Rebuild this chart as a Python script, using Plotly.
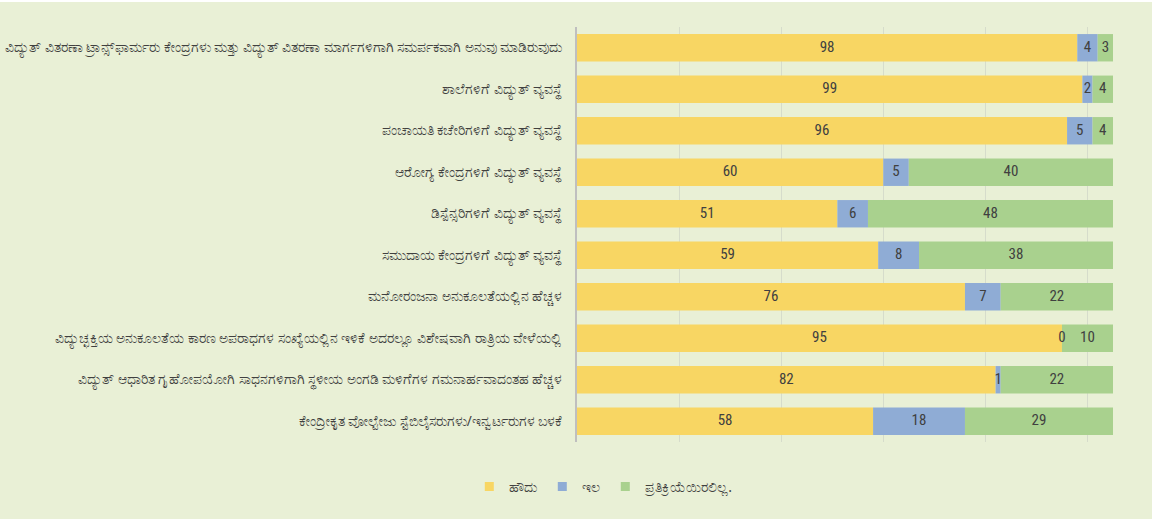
import plotly.graph_objects as go

categories = [
    "ವಿದ್ಯುತ್ ವಿತರಣಾ ಟ್ರಾನ್ಸ್‌ಫಾರ್ಮರು ಕೇಂದ್ರಗಳು ಮತ್ತು ವಿದ್ಯುತ್ ವಿತರಣಾ ಮಾರ್ಗಗಳಿಗಾಗಿ ಸಮರ್ಪಕವಾಗಿ ಅನುವು ಮಾಡಿರುವುದು",
    "ಶಾಲೆಗಳಿಗೆ ವಿದ್ಯುತ್ ವ್ಯವಸ್ಥೆ",
    "ಪಂಚಾಯತಿ ಕಚೇರಿಗಳಿಗೆ ವಿದ್ಯುತ್ ವ್ಯವಸ್ಥೆ",
    "ಆರೋಗ್ಯ ಕೇಂದ್ರಗಳಿಗೆ ವಿದ್ಯುತ್ ವ್ಯವಸ್ಥೆ",
    "ಡಿಸ್ಪೆನ್ಸರಿಗಳಿಗೆ ವಿದ್ಯುತ್ ವ್ಯವಸ್ಥೆ",
    "ಸಮುದಾಯ ಕೇಂದ್ರಗಳಿಗೆ ವಿದ್ಯುತ್ ವ್ಯವಸ್ಥೆ",
    "ಮನೋರಂಜನಾ ಅನುಕೂಲತೆಯಲ್ಲಿನ ಹೆಚ್ಚಳ",
    "ವಿದ್ಯುಚ್ಛಕ್ತಿಯ ಅನುಕೂಲತೆಯ ಕಾರಣ ಅಪರಾಧಗಳ ಸಂಖ್ಯೆಯಲ್ಲಿನ ಇಳಿಕೆ ಅದರಲ್ಲೂ ವಿಶೇಷವಾಗಿ ರಾತ್ರಿಯ ವೇಳೆಯಲ್ಲಿ",
    "ವಿದ್ಯುತ್ ಆಧಾರಿತ ಗೃಹೋಪಯೋಗಿ ಸಾಧನಗಳಿಗಾಗಿ ಸ್ಥಳೀಯ ಅಂಗಡಿ ಮಳಿಗೆಗಳ ಗಮನಾರ್ಹವಾದಂತಹ ಹೆಚ್ಚಳ",
    "ಕೇಂದ್ರೀಕೃತ ವೋಲ್ಟೇಜು ಸ್ಟೆಬಿಲೈಸರುಗಳು/ಇನ್ವರ್ಟರುಗಳ ಬಳಕೆ",
]
series_names = ["ಹೌದು", "ಇಲ", "ಪ್ರತಿಕ್ರಿಯೆಯಿರಲಿಲ್ಲ."]
yes_vals = [98, 99, 96, 60, 51, 59, 76, 95, 82, 58]
no_vals = [4, 2, 5, 5, 6, 8, 7, 0, 1, 18]
nr_vals = [3, 4, 4, 40, 48, 38, 22, 10, 22, 29]

colors = ["#F8D663", "#8FACD5", "#A9D18E"]
bg = "#E9F0D6"
txt = "#404040"

series = [yes_vals, no_vals, nr_vals]

fig = go.Figure()
base = [0] * len(categories)
for name, vals, col in zip(series_names, series, colors):
    fig.add_trace(go.Bar(
        y=categories, x=vals, base=base, orientation="h",
        marker=dict(color=col, line=dict(width=0)),
        name=name, showlegend=False, hoverinfo="x+y",
    ))
    mids = [b + v / 2 for b, v in zip(base, vals)]
    fig.add_trace(go.Scatter(
        y=categories, x=mids, mode="text", text=[str(v) for v in vals],
        textfont=dict(family="Liberation Sans Narrow, Roboto Condensed, Roboto, sans-serif", size=15, color=txt),
        showlegend=False, hoverinfo="skip", cliponaxis=False,
    ))
    base = [b + v for b, v in zip(base, vals)]

for name, col in zip(series_names, colors):
    fig.add_trace(go.Scatter(
        x=[None], y=[None], mode="markers", name=name,
        marker=dict(symbol="square", size=9, color=col),
    ))

fig.update_layout(
    width=1165, height=519,
    margin=dict(l=577, r=52, t=27, b=77),
    paper_bgcolor="white", plot_bgcolor=bg,
    barmode="overlay", bargap=0.34,
    font=dict(family="Noto Sans, DejaVu Sans, sans-serif", color=txt),
    showlegend=True,
    legend=dict(orientation="h", x=0.05, xanchor="center", y=-0.108, yanchor="middle",
                font=dict(size=14, color=txt), itemwidth=30, bgcolor="rgba(0,0,0,0)",
                tracegroupgap=0),
    xaxis=dict(range=[0, 105], dtick=20, showticklabels=False, showgrid=True, automargin=False,
               gridcolor="#D6DCCB", gridwidth=1, zeroline=False, showline=False, fixedrange=True),
    yaxis=dict(autorange="reversed", showline=True, linecolor="#BFBFBF", linewidth=2, automargin=False,
               tickfont=dict(size=13.5, color=txt), ticks="", ticklabelstandoff=10, showgrid=False),
    shapes=[dict(type="rect", xref="paper", yref="paper",
                 x0=-577/536, x1=(1152-577)/536, y0=-(519-442)/415, y1=1+(27-2)/415,
                 fillcolor=bg, line=dict(width=0), layer="below")],
)

fig.write_html("out.html", post_script="document.body.style.margin='0';",
               config={"displayModeBar": False})
